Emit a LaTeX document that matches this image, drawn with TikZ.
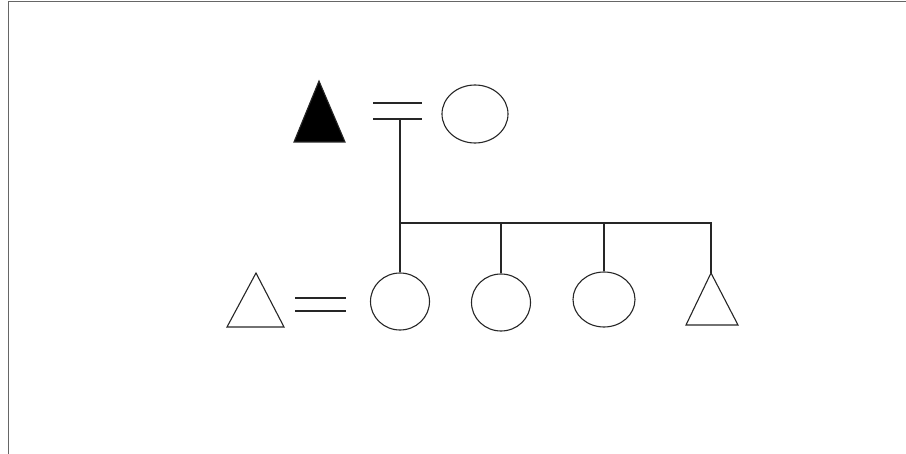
\documentclass[tikz,border=0pt]{standalone}
\usetikzlibrary{shapes.geometric}
\begin{document}
\begin{tikzpicture}[x=1pt,y=-1pt,
  ln/.style={line width=1.1pt,draw=black!85},
  frame/.style={line width=1.8pt,draw=black!60},
  circ/.style={ellipse,ln,inner sep=0pt,minimum width=#1},
]
\useasboundingbox (0,0) rectangle (906,454);
% frame
\draw[frame] (8.5,455) -- (8.5,1.5) -- (907,1.5);
% generation 1
\draw[ln,fill=black] (319,81) -- (345,142) -- (294,142) -- cycle;
\coordinate (f) at (319,111);
\node[circ=66pt,minimum height=58pt] (m) at (475,114) {};
\coordinate (ma) at (373,103);
\coordinate (mb) at (422,103);
\coordinate (mc) at (373,119);
\coordinate (md) at (422,119);
\draw[ln] (ma) -- (mb);
\draw[ln] (mc) -- (md);
\coordinate (mid) at (400,119);
\coordinate (bar) at (400,223);
\coordinate (barR) at (711,223);
% generation 2
\node[circ=59pt,minimum height=57pt] (c1) at (400,301.5) {};
\node[circ=59pt,minimum height=57pt] (c2) at (501,302.5) {};
\node[circ=62pt,minimum height=55pt] (c3) at (604,299.5) {};
\draw[ln] (711,273) -- (738,325) -- (686,325) -- cycle;
\coordinate (s4) at (711,273);
\draw[ln] (256,273) -- (284,327) -- (227,327) -- cycle;
\coordinate (sa) at (295,298);
\coordinate (sb) at (346,298);
\coordinate (sc) at (295,311);
\coordinate (sd) at (346,311);
\draw[ln] (sa) -- (sb);
\draw[ln] (sc) -- (sd);
% descent
\draw[ln] (mid) -- (bar) -- (barR) -- (s4);
\draw[ln] (bar) -- (c1.north);
\draw[ln] (c2.north |- bar) -- (c2.north);
\draw[ln] (c3.north |- bar) -- (c3.north);
\end{tikzpicture}
\end{document}
